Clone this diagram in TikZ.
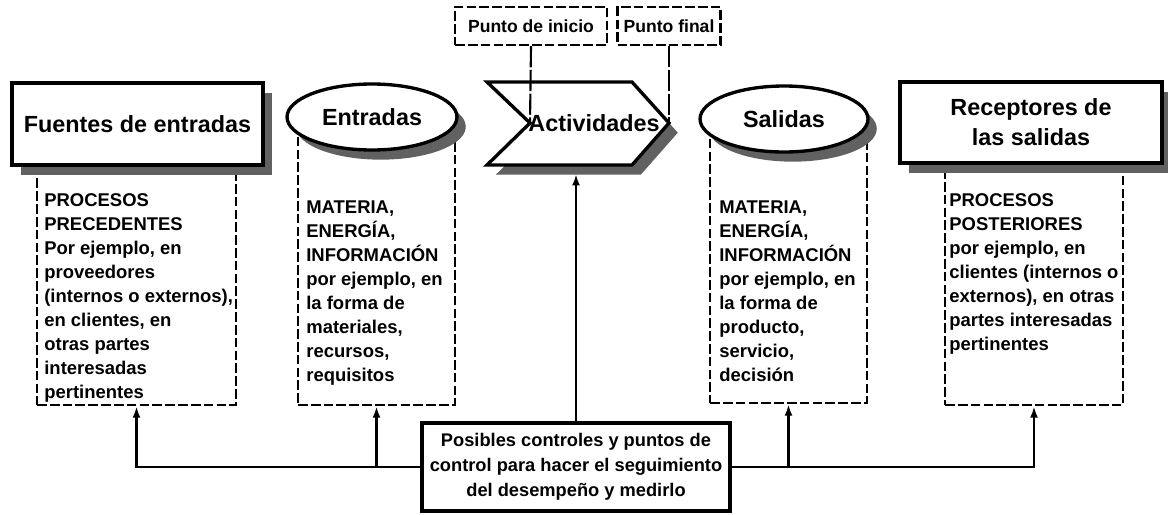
\documentclass[tikz,border=0pt]{standalone}
\usepackage{fontspec}
\setmainfont{Liberation Sans}
\usetikzlibrary{shapes.geometric,shadows,arrows.meta}
\newcommand{\titlefont}{\fontsize{13.3}{17}\selectfont\bfseries}
\newcommand{\bodyfont}{\fontsize{10.5}{13.7}\selectfont\bfseries}
\newcommand{\ctrlfont}{\fontsize{10.4}{14.2}\selectfont\bfseries}
\tikzset{solidbox/.style={draw,line width=1.9pt,fill=white,inner sep=0pt,align=center,font=\titlefont},
         shadowed/.style={drop shadow={shadow xshift=5pt,shadow yshift=-5.5pt,fill=black!62,opacity=1}},
         dashbox/.style={draw,line width=1.4pt,dash pattern=on 5.5pt off 1.8pt,inner sep=0pt},
         oval/.style={ellipse,draw,line width=1.9pt,fill=white,inner sep=0pt,font=\titlefont},
         bodytxt/.style={anchor=north west,inner sep=0pt,align=left,font=\bodyfont},
         flow/.style={line width=1.6pt,-{Latex[length=6.5pt,width=4.5pt]}},
         link/.style={line width=1.2pt,dash pattern=on 12pt off 1.5pt}}

\begin{document}
\begin{tikzpicture}[x=0.02cm,y=-0.02cm]
  \useasboundingbox (0,0) rectangle (1168,514);
  \node[dashbox,minimum width=3.98cm,minimum height=4.7cm] (fuentesbox) at (136.5,287.5) {};
  \node[dashbox,minimum width=3.14cm,minimum height=5.7cm] (entbox) at (376.5,262.5) {};
  \node[dashbox,minimum width=3.14cm,minimum height=5.66cm] (salbox) at (788.5,261.5) {};
  \node[dashbox,minimum width=3.56cm,minimum height=4.7cm] (recbox) at (1034,287.5) {};

  \node[solidbox,shadowed,minimum width=5.02cm,minimum height=1.64cm] (fuentes) at (137.5,124) {Fuentes de entradas};
  \node[oval,shadowed,minimum width=3.4cm,minimum height=1.32cm] (entradas) at (372,117) {Entradas};
  \draw[line width=1.9pt,fill=white,shadowed] (487,82) -- (632,82) -- (669,123) coordinate (acttip)
       -- (632,165) -- (487,165) -- (530,123) coordinate (actnotch) -- cycle;
  \node[font=\titlefont] (acttxt) at (594,123) {Actividades};
  \node[oval,shadowed,minimum width=3.36cm,minimum height=1.32cm] (salidas) at (784,119) {Salidas};
  \node[solidbox,shadowed,minimum width=5.24cm,minimum height=1.62cm] (receptores) at (1031,122.5) {Receptores de\\las salidas};

  \node[dashbox,fill=white,minimum width=3.04cm,minimum height=0.76cm,font=\fontsize{10}{12}\selectfont\bfseries] (inicio) at (531,26) {Punto de inicio};
  \node[dashbox,fill=white,minimum width=2.06cm,minimum height=0.76cm,font=\fontsize{10}{12}\selectfont\bfseries] (final) at (669,26) {Punto final};
  \draw[link] (inicio.south) -- (actnotch);
  \draw[link] (final.south) -- (acttip);

  \node[bodytxt] (fuentestxt) at (44,193) {PROCESOS\\PRECEDENTES\\Por ejemplo, en\\proveedores\\(internos o externos),\\en clientes, en\\otras partes\\interesadas\\pertinentes};
  \node[bodytxt] (enttxt) at (306,200) {MATERIA,\\ENERGÍA,\\INFORMACIÓN\\por ejemplo, en\\la forma de\\materiales,\\recursos,\\requisitos};
  \node[bodytxt] (saltxt) at (719,200) {MATERIA,\\ENERGÍA,\\INFORMACIÓN\\por ejemplo, en\\la forma de\\producto,\\servicio,\\decisión};
  \node[bodytxt] (rectxt) at (949,193) {PROCESOS\\POSTERIORES\\por ejemplo, en\\clientes (internos o\\externos), en otras\\partes interesadas\\pertinentes};

  \node[solidbox,minimum width=6.16cm,minimum height=1.76cm,font=\ctrlfont] (ctrl) at (576,467) {Posibles controles y puntos de\\control para hacer el seguimiento\\del desempeño y medirlo};
  \coordinate (actbase) at (576,174);
  \draw[flow] (ctrl.west) -| (fuentesbox.south);
  \draw[flow] (ctrl.west) -| (entbox.south);
  \draw[flow] (ctrl.east) -| (salbox.south);
  \draw[flow] (ctrl.east) -| (recbox.south);
  \draw[flow] (ctrl.north) -- (ctrl.north |- actbase);
\end{tikzpicture}
\end{document}
